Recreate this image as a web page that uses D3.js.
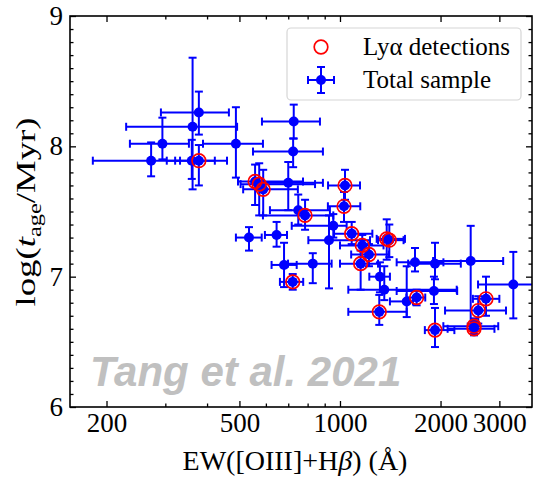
<!DOCTYPE html>
<html><head><meta charset="utf-8">
<script src="https://cdn.jsdelivr.net/npm/d3@7"></script>
<style>body{margin:0;background:#fff} svg{display:block} text{font-family:"Liberation Serif","DejaVu Serif",serif}</style>
</head><body>
<svg id="c" width="535" height="477"></svg>
<script>
// ---- data ----
const ew     = [272, 294, 378, 362, 360, 378, 488, 727, 724, 557, 573, 589, 700, 750, 786, 534, 646, 680, 722, 829, 955, 927, 1035, 1028, 1084, 1166, 1221, 1153, 1380, 1405, 1317, 1357, 1584, 1696, 1311, 1677, 1925, 2462, 1911, 3303, 2736, 2594, 2519, 2519, 1925];
const ewLo   = [182, 235, 291, 229, 303, 321, 389, 584, 549, 495, 504, 513, 584, 617, 588, 488, 596, 624, 661, 699, 717, 804, 921, 920, 960, 1000, 1080, 1000, 1288, 1300, 1224, 1059, 1411, 1580, 1059, 1478, 1600, 1900, 1478, 2590, 2500, 2063, 2039, 2100, 1795];
const ewHi   = [332, 353, 465, 492, 422, 459, 588, 871, 889, 775, 842, 748, 889, 933, 955, 583, 694, 742, 776, 944, 1047, 1230, 1148, 1150, 1250, 1350, 1400, 1300, 1565, 1550, 1411, 2236, 1654, 1800, 1584, 2040, 2300, 3080, 2243, 3800, 3000, 3140, 2977, 2900, 2200];
const age    = [7.89, 8.02, 8.26, 8.15, 7.89, 7.89, 8.02, 8.19, 7.96, 7.73, 7.71, 7.67, 7.72, 7.51, 7.47, 7.30, 7.32, 7.09, 6.96, 7.10, 7.39, 7.28, 7.70, 7.54, 7.33, 7.24, 7.17, 7.10, 7.29, 7.28, 7.00, 6.90, 6.81, 6.84, 6.73, 7.11, 7.10, 7.12, 6.89, 6.94, 6.83, 6.74, 6.62, 6.60, 6.59];
const ageLo  = [7.77, 7.90, 8.09, 7.67, 7.75, 7.70, 7.76, 8.06, 7.84, 7.55, 7.47, 7.47, 7.51, 7.40, 7.36, 7.20, 7.23, 6.92, 6.90, 6.95, 7.30, 6.91, 7.59, 7.42, 7.25, 7.15, 7.08, 6.90, 7.13, 7.15, 6.88, 6.82, 6.69, 6.78, 6.63, 7.04, 6.98, 6.64, 6.79, 6.68, 6.70, 6.64, 6.56, 6.55, 6.46];
const ageHi  = [8.03, 8.22, 8.42, 8.68, 8.05, 8.01, 8.30, 8.32, 8.06, 7.86, 7.87, 7.82, 7.88, 7.63, 7.59, 7.38, 7.42, 7.26, 7.02, 7.18, 7.48, 7.47, 7.82, 7.65, 7.42, 7.32, 7.25, 7.20, 7.44, 7.40, 7.11, 7.08, 7.08, 6.90, 6.86, 7.22, 7.26, 7.39, 7.00, 7.19, 7.00, 6.85, 6.68, 6.66, 6.76];
// Lya detections
const lyaEw  = [378, 557, 573, 589, 786, 722, 1035, 1028, 1084, 1166, 1221, 1153, 1380, 1405, 1696, 1311, 2736, 2594, 2519, 2519, 1925];
const lyaAge = [7.89, 7.73, 7.71, 7.67, 7.47, 6.96, 7.70, 7.54, 7.33, 7.24, 7.17, 7.10, 7.29, 7.28, 6.84, 6.73, 6.83, 6.74, 6.62, 6.60, 6.59];
const xMajor = [200, 500, 1000, 2000, 3000];
const xMinor = [300, 400, 600, 700, 800, 900];
const yMajor = [6, 7, 8, 9];
const yMinor = d3.range(60, 91).map(d => d / 10).filter(d => !yMajor.includes(d));
const legendLabels = ["Ly\u03B1 detections", "Total sample"];

// ---- layout ----
const L = 70, R = 532, T = 16, B = 407;
const x = d3.scaleLog().domain([155.5, 3757]).range([L, R]);
const y = d3.scaleLinear().domain([6, 9]).range([B, T]);
const serif = '"Liberation Serif", "DejaVu Serif", serif';
const BLUE = '#0000ff', RED = '#ff0000';
const svg = d3.select('#c');
svg.append('rect').attr('width', 535).attr('height', 477).attr('fill', '#fff');
svg.append('defs').append('clipPath').attr('id', 'clip')
  .append('rect').attr('x', L).attr('y', T).attr('width', R - L).attr('height', B - T);

const pts = ew.map((d, i) => ({ew: d, lo: ewLo[i], hi: ewHi[i], a: age[i], alo: ageLo[i], ahi: ageHi[i]}));
const plot = svg.append('g').attr('clip-path', 'url(#clip)');
const cap = 4;
const eb = plot.append('g').attr('stroke', BLUE).attr('stroke-width', 2);
pts.forEach(p => {
  const g = eb.append('g');
  g.append('line').attr('x1', x(p.lo)).attr('x2', x(p.hi)).attr('y1', y(p.a)).attr('y2', y(p.a));
  g.append('line').attr('x1', x(p.ew)).attr('x2', x(p.ew)).attr('y1', y(p.alo)).attr('y2', y(p.ahi));
  [p.lo, p.hi].forEach(v => g.append('line').attr('x1', x(v)).attr('x2', x(v)).attr('y1', y(p.a) - cap).attr('y2', y(p.a) + cap));
  [p.alo, p.ahi].forEach(v => g.append('line').attr('x1', x(p.ew) - cap).attr('x2', x(p.ew) + cap).attr('y1', y(v)).attr('y2', y(v)));
});
plot.append('g').selectAll('circle').data(pts).join('circle')
  .attr('cx', d => x(d.ew)).attr('cy', d => y(d.a)).attr('r', 5).attr('fill', BLUE);
plot.append('g').selectAll('circle').data(lyaEw).join('circle')
  .attr('cx', d => x(d)).attr('cy', (d, i) => y(lyaAge[i])).attr('r', 6.8)
  .attr('fill', 'none').attr('stroke', RED).attr('stroke-width', 1.7);

// ---- axes (ticks inward) ----
function style(g, fs) {
  g.select('.domain').remove();
  g.selectAll('line').attr('stroke', '#000').attr('stroke-width', 1.3);
  g.selectAll('text').attr('font-family', serif).attr('font-size', fs).attr('fill', '#000');
}
const fmt = d3.format('d');
svg.append('g').attr('transform', `translate(0,${B})`)
  .call(d3.axisBottom(x).tickValues(xMajor).tickFormat(fmt).tickSizeInner(-6).tickSizeOuter(0).tickPadding(6)).call(style, 27);
svg.append('g').attr('transform', `translate(0,${B})`)
  .call(d3.axisBottom(x).tickValues(xMinor).tickFormat('').tickSizeInner(-3.5).tickSizeOuter(0)).call(style, 27);
svg.append('g').attr('transform', `translate(0,${T})`)
  .call(d3.axisTop(x).tickValues(xMajor).tickFormat('').tickSizeInner(-6).tickSizeOuter(0)).call(style, 27);
svg.append('g').attr('transform', `translate(0,${T})`)
  .call(d3.axisTop(x).tickValues(xMinor).tickFormat('').tickSizeInner(-3.5).tickSizeOuter(0)).call(style, 27);
svg.append('g').attr('transform', `translate(${L},0)`)
  .call(d3.axisLeft(y).tickValues(yMajor).tickFormat(fmt).tickSizeInner(-6).tickSizeOuter(0).tickPadding(7)).call(style, 27);
svg.append('g').attr('transform', `translate(${L},0)`)
  .call(d3.axisLeft(y).tickValues(yMinor).tickFormat('').tickSizeInner(-3.5).tickSizeOuter(0)).call(style, 27);
svg.append('g').attr('transform', `translate(${R},0)`)
  .call(d3.axisRight(y).tickValues(yMajor).tickFormat('').tickSizeInner(-6).tickSizeOuter(0)).call(style, 27);
svg.append('g').attr('transform', `translate(${R},0)`)
  .call(d3.axisRight(y).tickValues(yMinor).tickFormat('').tickSizeInner(-3.5).tickSizeOuter(0)).call(style, 27);
svg.append('rect').attr('x', L).attr('y', T).attr('width', R - L).attr('height', B - T)
  .attr('fill', 'none').attr('stroke', '#000').attr('stroke-width', 1.6);

// axis titles
const xt = svg.append('text').attr('x', 295).attr('y', 470).attr('text-anchor', 'middle')
  .attr('font-family', serif).attr('font-size', 28).attr('fill', '#000');
xt.append('tspan').text('EW([OIII]+H');
xt.append('tspan').attr('font-style', 'italic').text('\u03B2');
xt.append('tspan').text(') (\u00C5)');
const yt = svg.append('text').attr('transform', 'translate(35,212) rotate(-90) scale(1.36,1)').attr('text-anchor', 'middle')
  .attr('font-family', serif).attr('font-size', 27).attr('fill', '#000');
yt.append('tspan').text('log(');
yt.append('tspan').attr('font-style', 'italic').text('t');
yt.append('tspan').attr('font-size', 18).attr('dy', 6).text('age');
yt.append('tspan').attr('dy', -6).text('/Myr)');

// watermark
svg.append('text').attr('x', 90).attr('y', 386).style('font-family', '"Liberation Sans", Arial, sans-serif')
  .attr('font-weight', 'bold').attr('font-style', 'italic').attr('font-size', 42).attr('fill', '#c0c0c0')
  .text('Tang et al. 2021');

// legend
const lg = svg.append('g');
lg.append('rect').attr('x', 287).attr('y', 28).attr('width', 234).attr('height', 72).attr('rx', 4)
  .attr('fill', '#fff').attr('fill-opacity', 0.85).attr('stroke', '#d6d6d6').attr('stroke-width', 1.2);
lg.append('circle').attr('cx', 321).attr('cy', 47).attr('r', 6.8).attr('fill', 'none').attr('stroke', RED).attr('stroke-width', 1.7);
const lm = lg.append('g').attr('stroke', BLUE).attr('stroke-width', 2);
lm.append('line').attr('x1', 308).attr('x2', 334).attr('y1', 80).attr('y2', 80);
lm.append('line').attr('x1', 321).attr('x2', 321).attr('y1', 67).attr('y2', 93);
[308, 334].forEach(v => lm.append('line').attr('x1', v).attr('x2', v).attr('y1', 76).attr('y2', 84));
[67, 93].forEach(v => lm.append('line').attr('x1', 317).attr('x2', 325).attr('y1', v).attr('y2', v));
lg.append('circle').attr('cx', 321).attr('cy', 80).attr('r', 5).attr('fill', BLUE);
legendLabels.forEach((t, i) => {
  lg.append('text').attr('x', 363).attr('y', 55 + i * 33).attr('font-family', serif).attr('font-size', 25)
    .attr('fill', '#000').text(t);
});
</script>
</body></html>
